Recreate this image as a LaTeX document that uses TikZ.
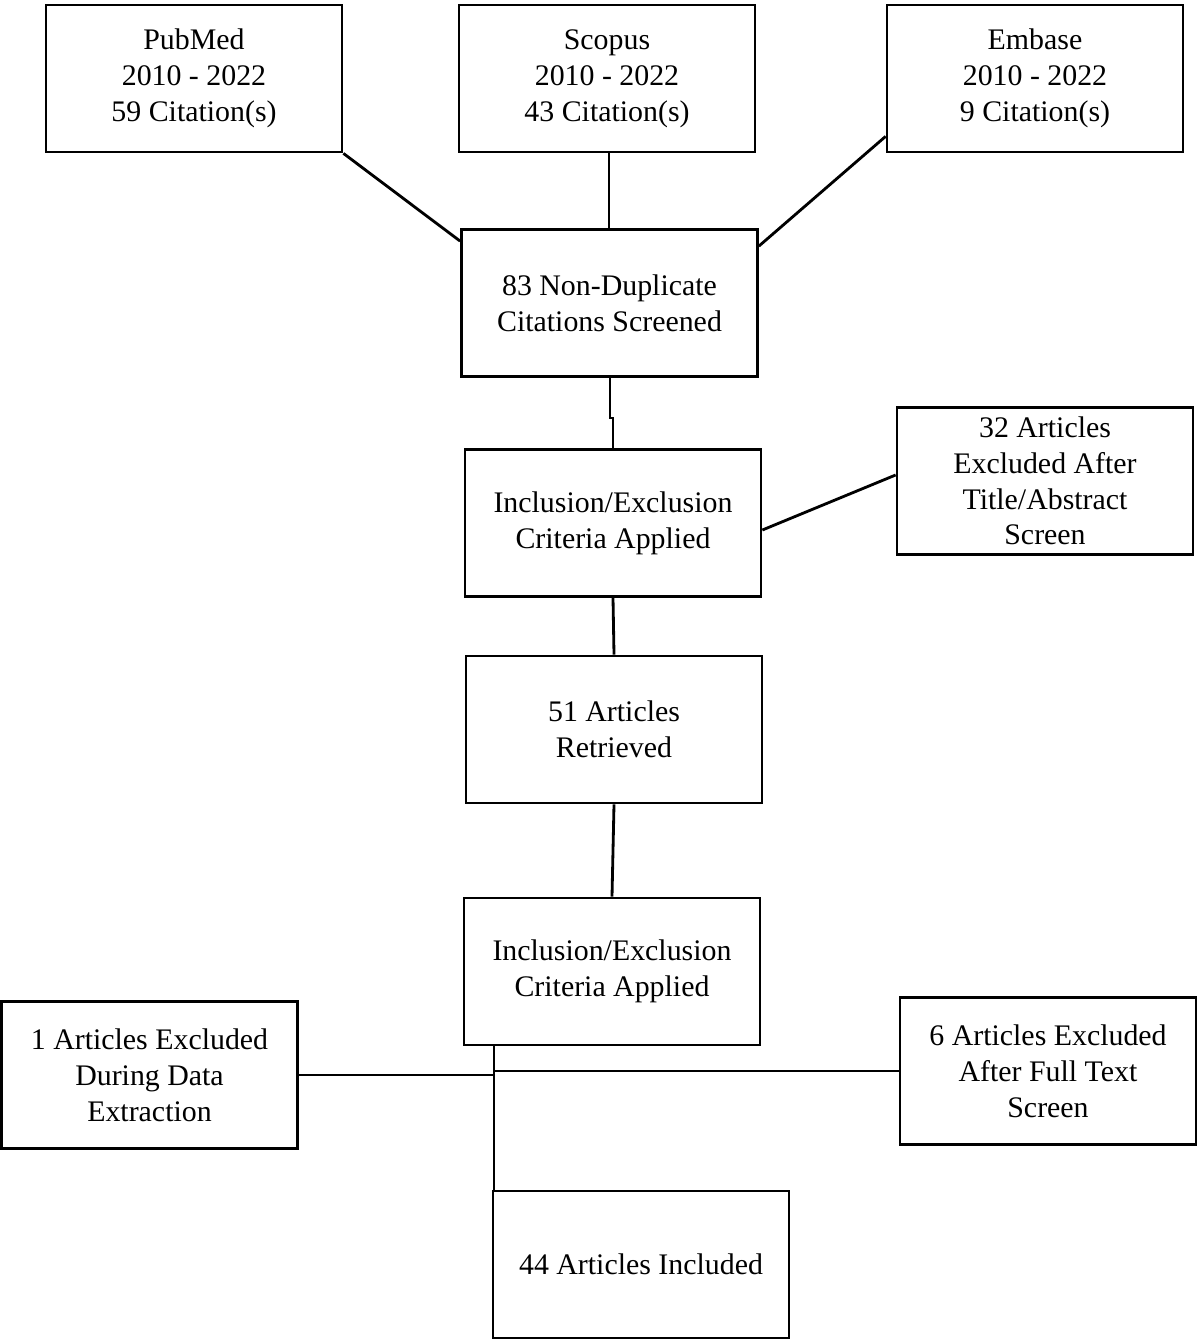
\documentclass[tikz,border=0pt]{standalone}
\usepackage{fontspec}
\setmainfont{Liberation Serif}
\usetikzlibrary{calc}

\begin{document}
\begin{tikzpicture}[x=0.02cm,y=-0.02cm,
    flow_box/.style={draw,line width=1.6pt,minimum width=5.92cm,minimum height=2.94cm,
        align=center,inner sep=1pt,font=\fontsize{17}{20.4}\selectfont},
    link/.style={line width=1.6pt}]

    \useasboundingbox (0,0) rectangle (1200,1341);

    \node[flow_box] (pubmed) at (194, 78.5) {PubMed\\2010 - 2022\\59 Citation(s)};
    \node[flow_box] (scopus) at (607, 78.5) {Scopus\\2010 - 2022\\43 Citation(s)};
    \node[flow_box] (embase) at (1035, 78.5) {Embase\\2010 - 2022\\9 Citation(s)};
    \node[flow_box] (screened) at (609.5, 303) {83 Non-Duplicate\\Citations Screened};
    \node[flow_box] (criteria1) at (613, 523) {Inclusion/Exclusion\\Criteria Applied};
    \node[flow_box] (excl1) at (1045, 481) {32 Articles\\Excluded After\\Title/Abstract\\Screen};
    \node[flow_box] (retrieved) at (614, 729.5) {51 Articles\\Retrieved};
    \node[flow_box] (criteria2) at (612, 971.5) {Inclusion/Exclusion\\Criteria Applied};
    \node[flow_box] (excl3) at (149.5, 1075) {1 Articles Excluded\\During Data\\Extraction};
    \node[flow_box] (excl2) at (1048, 1071) {6 Articles Excluded\\After Full Text\\Screen};
    \node[flow_box] (included) at (641, 1264.5) {44 Articles Included};

    \coordinate (split) at (494, 1071);
    \draw[link] (pubmed.south east) -- ($(screened.north west)+(0,13)$);
    \draw[link] (scopus.south -| 609,0) -- (screened.north -| 609,0);
    \draw[link] ($(embase.south west)+(0,-17)$) -- ($(screened.north east)+(0,18)$);
    \draw[link] (screened.south -| 610,0) -- (610,418) -- (613,418) -- (criteria1.north);
    \draw[link] ($(criteria1.east)+(0,7)$) -- ($(excl1.west)+(0,-6)$);
    \draw[link] (criteria1.south) -- (retrieved.north);
    \draw[link] (retrieved.south) -- (criteria2.north);
    \draw[link] (criteria2.south -| split) -- (included.north -| split);
    \draw[link] (excl3.east) -- (split |- excl3.east);
    \draw[link] (split) -- (excl2.west);
\end{tikzpicture}
\end{document}
